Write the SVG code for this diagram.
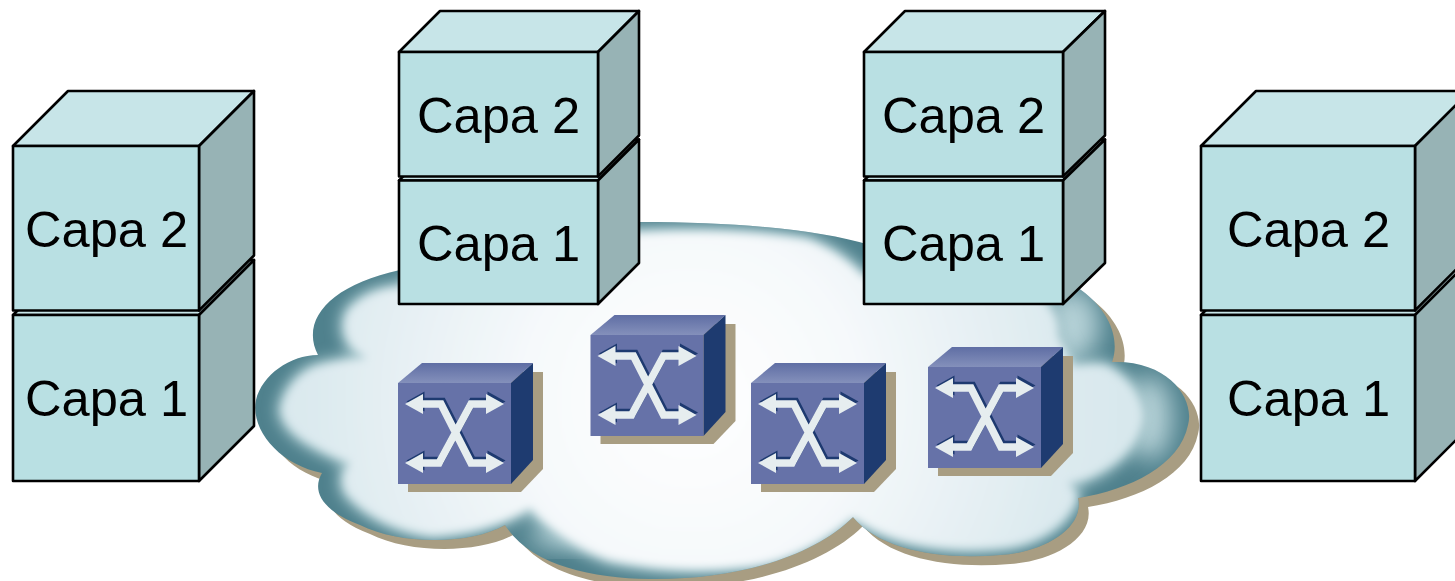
<svg xmlns="http://www.w3.org/2000/svg" xmlns:xlink="http://www.w3.org/1999/xlink" width="1455" height="581" viewBox="0 0 1455 581">
<style>
.front{fill:#b9e0e3;stroke:#000;stroke-width:2.6;stroke-linejoin:round}
.top{fill:#c7e5e8;stroke:#000;stroke-width:2.6;stroke-linejoin:round}
.side{fill:#97b3b5;stroke:#000;stroke-width:2.6;stroke-linejoin:round}
.lbl{font-family:"Liberation Sans",Arial,sans-serif;font-size:50.6px;fill:#000}
.arrow{fill:none;stroke-width:7.5;stroke-linejoin:miter}
</style>
<defs>
<path id="cloudOuter" d="M318 355C300 320 330 285 400 270C420 235 520 220 640 222C740 222 820 230 870 245C960 240 1050 265 1085 293C1110 313 1120 340 1112 362C1170 360 1195 400 1188 425C1180 465 1130 490 1078 498C1085 530 1040 553 1000 555C940 560 880 550 853 517C815 555 740 580 650 579C590 578 530 565 505 525C470 545 400 545 360 525C320 510 312 490 322 473C280 465 250 430 256 400C262 375 290 355 318 355Z"/>
<path id="cloudInner" d="M367 358C340 345 340 315 355 305C365 295 385 288 400 288C440 250 540 233 640 233C700 230 760 232 807 240C830 248 850 262 863 277C930 268 1000 272 1033 290C1050 305 1060 320 1057 335C1065 350 1070 360 1073 367C1090 365 1100 365 1107 367C1130 380 1143 400 1143 417C1140 450 1100 478 1068 483C1075 490 1078 497 1073 505C1060 530 1030 545 1000 547C950 552 890 545 853 517C820 545 780 565 740 567C690 572 650 568 610 560C575 548 550 530 530 508C500 525 470 533 433 535C400 532 365 515 347 493C340 480 345 470 350 463C320 450 285 435 282 410C285 390 300 373 317 367C335 362 350 360 367 358Z"/>
<clipPath id="cloudClip"><use href="#cloudOuter"/></clipPath>
<radialGradient id="cloudFill" gradientUnits="userSpaceOnUse" cx="690" cy="400" r="470">
<stop offset="0" stop-color="#ffffff"/><stop offset="0.35" stop-color="#f6f9fb"/><stop offset="0.8" stop-color="#dceaef"/><stop offset="1" stop-color="#d6e7ec"/>
</radialGradient>
<filter id="soft" x="-5%" y="-5%" width="110%" height="110%"><feGaussianBlur stdDeviation="4"/></filter>
<filter id="wide" x="-5%" y="-5%" width="110%" height="110%"><feGaussianBlur stdDeviation="7"/></filter>
<filter id="patch" x="-50%" y="-50%" width="200%" height="200%"><feGaussianBlur stdDeviation="12"/></filter>
<linearGradient id="swTop" x1="0" y1="0" x2="0" y2="1"><stop offset="0" stop-color="#5f6ea4"/><stop offset="1" stop-color="#8490bb"/></linearGradient>
<g id="switch">
<polygon points="420,372 543,372 543,469 521,492 408,492 408,380" fill="#a89d82"/>
<polygon points="398,383 511,383 533,363 422,363" fill="url(#swTop)"/>
<polygon points="511,383 533,363 533,460 511,484" fill="#1e3b70"/>
<rect x="398" y="383" width="113" height="101" fill="#6672a8"/>
<g transform="translate(1.5,-2.5)" fill="#1e3a70">
<path class="arrow" stroke="#1e3a70" d="M420 404H441L471 463H490M420 463H439L471 404H490"/>
<polygon points="405,404 423,394 423,414"/><polygon points="504,404 486,394 486,414"/><polygon points="405,463 423,453 423,473"/><polygon points="504,463 486,453 486,473"/>
</g>
<g fill="#e6edef">
<path class="arrow" stroke="#e6edef" d="M420 404H441L471 463H490M420 463H439L471 404H490"/>
<polygon points="405,404 423,394 423,414"/><polygon points="504,404 486,394 486,414"/><polygon points="405,463 423,453 423,473"/><polygon points="504,463 486,453 486,473"/>
</g>
</g>
</defs>
<g id="cloud">
<use href="#cloudOuter" transform="translate(10,9)" fill="#a89d82"/>
<use href="#cloudOuter" fill="#4f818d"/>
<g clip-path="url(#cloudClip)">
<ellipse cx="1072" cy="325" rx="28" ry="36" fill="#b4d0d6" filter="url(#patch)"/>
<ellipse cx="1150" cy="418" rx="22" ry="42" fill="#b4d0d6" filter="url(#patch)"/>
<ellipse cx="560" cy="535" rx="30" ry="12" fill="#b4d0d6" filter="url(#patch)"/>
<use href="#cloudInner" filter="url(#wide)" fill="#a8c8ce" stroke="#a8c8ce" stroke-width="12"/>
<use href="#cloudInner" filter="url(#soft)" fill="url(#cloudFill)"/>
</g>
</g>
<g id="switch1"><use href="#switch"/></g>
<g id="switch2"><use href="#switch" transform="translate(192.5,-48)"/></g>
<g id="switch3"><use href="#switch" transform="translate(353,0)"/></g>
<g id="switch4"><use href="#switch" transform="translate(530,-16)"/></g>
<g id="left-capa1">
<polygon class="top" points="13,315 68,260 254,260 199,315"/>
<polygon class="side" points="199,315 254,260 254,426 199,481"/>
<rect class="front" x="13" y="315" width="186" height="166"/>
<text class="lbl" x="25" y="416">Capa 1</text>
</g>
<g id="left-capa2">
<polygon class="top" points="13,146 68,91 254,91 199,146"/>
<polygon class="side" points="199,146 254,91 254,255.500 199,310.500"/>
<rect class="front" x="13" y="146" width="186" height="164.500"/>
<text class="lbl" x="25" y="247">Capa 2</text>
</g>
<g id="mid1-capa1">
<polygon class="top" points="399,180.500 440,139.500 639,139.500 598,180.500"/>
<polygon class="side" points="598,180.500 639,139.500 639,263 598,304"/>
<rect class="front" x="399" y="180.500" width="199" height="123.500"/>
<text class="lbl" x="417" y="261">Capa 1</text>
</g>
<g id="mid1-capa2">
<polygon class="top" points="399,52 440,11 639,11 598,52"/>
<polygon class="side" points="598,52 639,11 639,135.500 598,176.500"/>
<rect class="front" x="399" y="52" width="199" height="124.500"/>
<text class="lbl" x="417" y="133">Capa 2</text>
</g>
<g id="mid2-capa1">
<polygon class="top" points="864,180.500 905,139.500 1105,139.500 1063,180.500"/>
<polygon class="side" points="1063,180.500 1105,139.500 1105,263 1063,304"/>
<rect class="front" x="864" y="180.500" width="199" height="123.500"/>
<text class="lbl" x="882" y="261">Capa 1</text>
</g>
<g id="mid2-capa2">
<polygon class="top" points="864,52 905,11 1105,11 1063,52"/>
<polygon class="side" points="1063,52 1105,11 1105,135.500 1063,176.500"/>
<rect class="front" x="864" y="52" width="199" height="124.500"/>
<text class="lbl" x="882" y="133">Capa 2</text>
</g>
<g id="right-capa1">
<polygon class="top" points="1201,315 1256,260 1470,260 1415,315"/>
<polygon class="side" points="1415,315 1470,260 1470,426 1415,481"/>
<rect class="front" x="1201" y="315" width="214" height="166"/>
<text class="lbl" x="1227" y="416">Capa 1</text>
</g>
<g id="right-capa2">
<polygon class="top" points="1201,146 1256,91 1470,91 1415,146"/>
<polygon class="side" points="1415,146 1470,91 1470,255.500 1415,310.500"/>
<rect class="front" x="1201" y="146" width="214" height="164.500"/>
<text class="lbl" x="1227" y="247">Capa 2</text>
</g>
</svg>
